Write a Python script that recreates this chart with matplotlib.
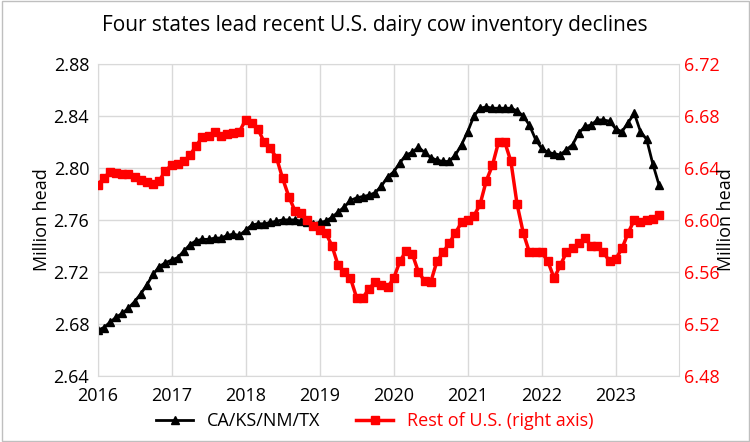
import matplotlib.pyplot as plt
import numpy as np

months = np.arange(2016, 2023 + 8 / 12, 1 / 12)[:92]

four_states = [
    2.675, 2.677, 2.681, 2.685, 2.688, 2.692, 2.697, 2.703, 2.710, 2.718, 2.724, 2.727,
    2.729, 2.731, 2.736, 2.741, 2.744, 2.745, 2.745, 2.746, 2.746, 2.748, 2.749, 2.748,
    2.752, 2.756, 2.757, 2.757, 2.758, 2.759, 2.760, 2.760, 2.760, 2.759, 2.758, 2.757,
    2.758, 2.759, 2.762, 2.766, 2.770, 2.775, 2.777, 2.778, 2.779, 2.781, 2.786, 2.793,
    2.797, 2.804, 2.810, 2.812, 2.816, 2.812, 2.808, 2.806, 2.805, 2.805, 2.810, 2.818,
    2.828, 2.840, 2.846, 2.847, 2.846, 2.846, 2.846, 2.846, 2.844, 2.840, 2.833, 2.822,
    2.815, 2.812, 2.811, 2.810, 2.814, 2.818, 2.827, 2.832, 2.833, 2.837, 2.837, 2.836,
    2.830, 2.828, 2.835, 2.842, 2.828, 2.822, 2.803, 2.787,
]

rest_us = [
    6.627, 6.632, 6.637, 6.636, 6.635, 6.635, 6.633, 6.631, 6.629, 6.628, 6.630, 6.638,
    6.642, 6.643, 6.645, 6.650, 6.657, 6.664, 6.665, 6.668, 6.665, 6.666, 6.667, 6.668,
    6.677, 6.675, 6.670, 6.660, 6.655, 6.648, 6.632, 6.618, 6.607, 6.605, 6.600, 6.595,
    6.592, 6.590, 6.580, 6.565, 6.560, 6.555, 6.540, 6.540, 6.547, 6.552, 6.550, 6.548,
    6.555, 6.568, 6.576, 6.574, 6.560, 6.553, 6.552, 6.568, 6.575, 6.582, 6.590, 6.598,
    6.600, 6.603, 6.612, 6.630, 6.642, 6.660, 6.660, 6.645, 6.612, 6.590, 6.575, 6.575,
    6.575, 6.568, 6.555, 6.565, 6.575, 6.578, 6.582, 6.586, 6.580, 6.580, 6.575, 6.568,
    6.570, 6.578, 6.590, 6.600, 6.598, 6.600, 6.601, 6.604,
]

plt.rcParams['font.family'] = ['Open Sans', 'DejaVu Sans']
fig, ax = plt.subplots(figsize=(7.5, 4.42), dpi=100)
fig.subplots_adjust(left=0.13, right=0.905, top=0.855, bottom=0.15)

l1, = ax.plot(months, four_states, '-^', color='black', lw=2, markersize=6, label='CA/KS/NM/TX')
ax.set_xlim(2016, 2023.85)
ax.set_ylim(2.64, 2.88)
ax.set_yticks(np.arange(2.64, 2.881, 0.04))
ax.set_yticklabels([f'{v:.2f}' for v in np.arange(2.64, 2.881, 0.04)])
ax.set_xticks(range(2016, 2024))
ax.grid(True, color='#d9d9d9', lw=1)
ax.set_ylabel('Million head', fontsize=13, labelpad=2)
ax.tick_params(labelsize=13, length=0)
ax.tick_params(axis='x', pad=8)
ax.tick_params(axis='y', pad=6)
for s in ax.spines.values():
    s.set_color('#d9d9d9')

ax2 = ax.twinx()
l2, = ax2.plot(months, rest_us, '-s', color='red', lw=2.5, markersize=6, label='Rest of U.S. (right axis)')
ax2.set_ylim(6.48, 6.72)
ax2.set_yticks(np.arange(6.48, 6.721, 0.04))
ax2.set_yticklabels([f'{v:.2f}' for v in np.arange(6.48, 6.721, 0.04)])
ax2.tick_params(labelsize=13, length=0, colors='red')
ax2.set_ylabel('Million head', fontsize=13, labelpad=-2)
for s in ax2.spines.values():
    s.set_visible(False)

fig.suptitle('Four states lead recent U.S. dairy cow inventory declines', fontsize=15, y=0.965)
fig.legend(handles=[l1, l2], loc='lower center', ncol=2, frameon=False, fontsize=13,
           bbox_to_anchor=(0.5, -0.01), labelcolor=['black', 'red'], columnspacing=2)
fig.patches.append(plt.Rectangle((0.002, 0.002), 0.996, 0.996, transform=fig.transFigure,
                                 fill=False, edgecolor='#bfbfbf', lw=1))
fig.savefig('out.png')
